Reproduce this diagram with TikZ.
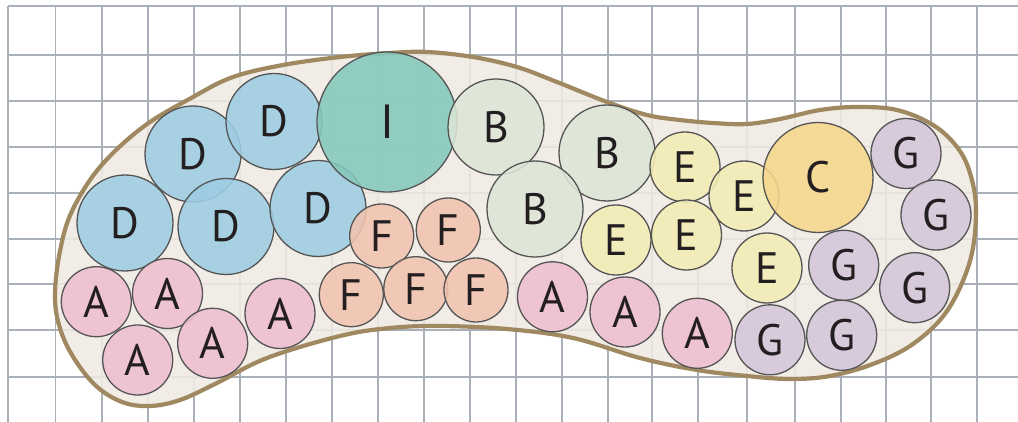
\documentclass[tikz,border=0pt]{standalone}
\usepackage{fontspec}
\setmainfont{PT Sans}
\definecolor{gridc}{HTML}{A9B0B8}
\definecolor{blobfill}{HTML}{EFEAE2}
\definecolor{blobline}{HTML}{A08960}
\definecolor{ringc}{HTML}{555555}
\definecolor{txt}{HTML}{231F20}
\definecolor{cD}{HTML}{9ECDE4}
\definecolor{cI}{HTML}{84C8BC}
\definecolor{cB}{HTML}{DCE6D6}
\definecolor{cE}{HTML}{F3EDB5}
\definecolor{cC}{HTML}{F6D68C}
\definecolor{cG}{HTML}{D4C6D9}
\definecolor{cA}{HTML}{F0BFD0}
\definecolor{cF}{HTML}{F2C3B0}
\begin{document}
\begin{tikzpicture}[x=1pt,y=-1pt,
  gridline/.style={draw=gridc, line width=1.5pt},
  ball/.style={circle, draw=ringc, line width=1.3pt, fill opacity=0.88, text opacity=1,
    inner sep=0pt, text=txt, font=\fontsize{44}{44}\selectfont},
  dball/.style={ball, fill=cD, minimum size=96pt},
  iball/.style={ball, fill=cI, minimum size=140pt, font=\fontsize{48}{48}\selectfont},
  bball/.style={ball, fill=cB, minimum size=96pt},
  eball/.style={ball, fill=cE, minimum size=70pt},
  cball/.style={ball, fill=cC, minimum size=110pt},
  gball/.style={ball, fill=cG, minimum size=70pt},
  aball/.style={ball, fill=cA, minimum size=70pt},
  fball/.style={ball, fill=cF, minimum size=64pt}]
\useasboundingbox (0,0) rectangle (1018,422);
% grid
\foreach \x in {8,55.6,102,148,194,240,286,332,378,424,470,516,562,608,652,698,747,795,841,886,931,977}
  \draw[gridline] (\x,6) -- (\x,422);
\foreach \y in {6,55,101,147,193,239,284,330,377}
  \draw[gridline] (8,\y) -- (1018,\y);
% blob
\draw[blobline, line width=4.2pt, fill=blobfill, fill opacity=0.88]
  plot[smooth cycle, tension=0.6] coordinates {
  (55,294) (60,251) (72,211) (100,167) (143,127) (193,97) (233,77) (283,65) (340,57)
  (390,53) (427,52) (473,57) (517,67) (557,82) (607,102) (647,115) (680,120) (713,123)
  (747,124) (780,119) (820,110) (857,107) (897,110) (933,125) (957,147) (970,173)
  (976,210) (970,261) (947,311) (913,344) (873,364) (830,376) (790,379) (747,376)
  (697,370) (640,358) (573,338) (507,329) (440,326) (390,328) (340,336) (267,358)
  (215,384) (180,400) (150,406) (122,402) (95,385) (72,355) (59,325)};
% D
\node[dball] (d1) at (193,154) {D};
\node[dball] (d2) at (274,121.5) {D};
\node[dball] (d3) at (125,223) {D};
\node[dball] (d4) at (226,226.5) {D};
\node[dball] (d5) at (318,208.5) {D};
% I
\node[iball] (i1) at (387,122) {I};
% B
\node[bball] (b1) at (496,127) {B};
\node[bball] (b2) at (607,153) {B};
\node[bball] (b3) at (535,209) {B};
% E
\node[eball] (e1) at (685,167) {E};
\node[eball] (e2) at (744,196) {E};
\node[eball] (e3) at (616,240) {E};
\node[eball] (e4) at (686.5,235) {E};
\node[eball] (e5) at (767,268) {E};
% C
\node[cball] (c1) at (818,177.5) {C};
% G
\node[gball] (g1) at (906,153.5) {G};
\node[gball] (g2) at (936,215) {G};
\node[gball] (g3) at (914.7,287.7) {G};
\node[gball] (g4) at (843.7,265.3) {G};
\node[gball] (g5) at (841.7,335.3) {G};
\node[gball] (g6) at (770,339.8) {G};
% F
\node[fball] (f1) at (381.7,236) {F};
\node[fball] (f2) at (448.3,230) {F};
\node[fball] (f3) at (351.3,294.7) {F};
\node[fball] (f4) at (415.8,288.7) {F};
\node[fball] (f5) at (476,290) {F};
% A
\node[aball] (a1) at (96.3,301.7) {A};
\node[aball] (a2) at (167.5,293.5) {A};
\node[aball] (a3) at (137.7,360) {A};
\node[aball] (a4) at (212.7,343.3) {A};
\node[aball] (a5) at (280,313.5) {A};
\node[aball] (a6) at (552.5,296.8) {A};
\node[aball] (a7) at (625,312) {A};
\node[aball] (a8) at (697.3,333.3) {A};
\end{tikzpicture}
\end{document}
